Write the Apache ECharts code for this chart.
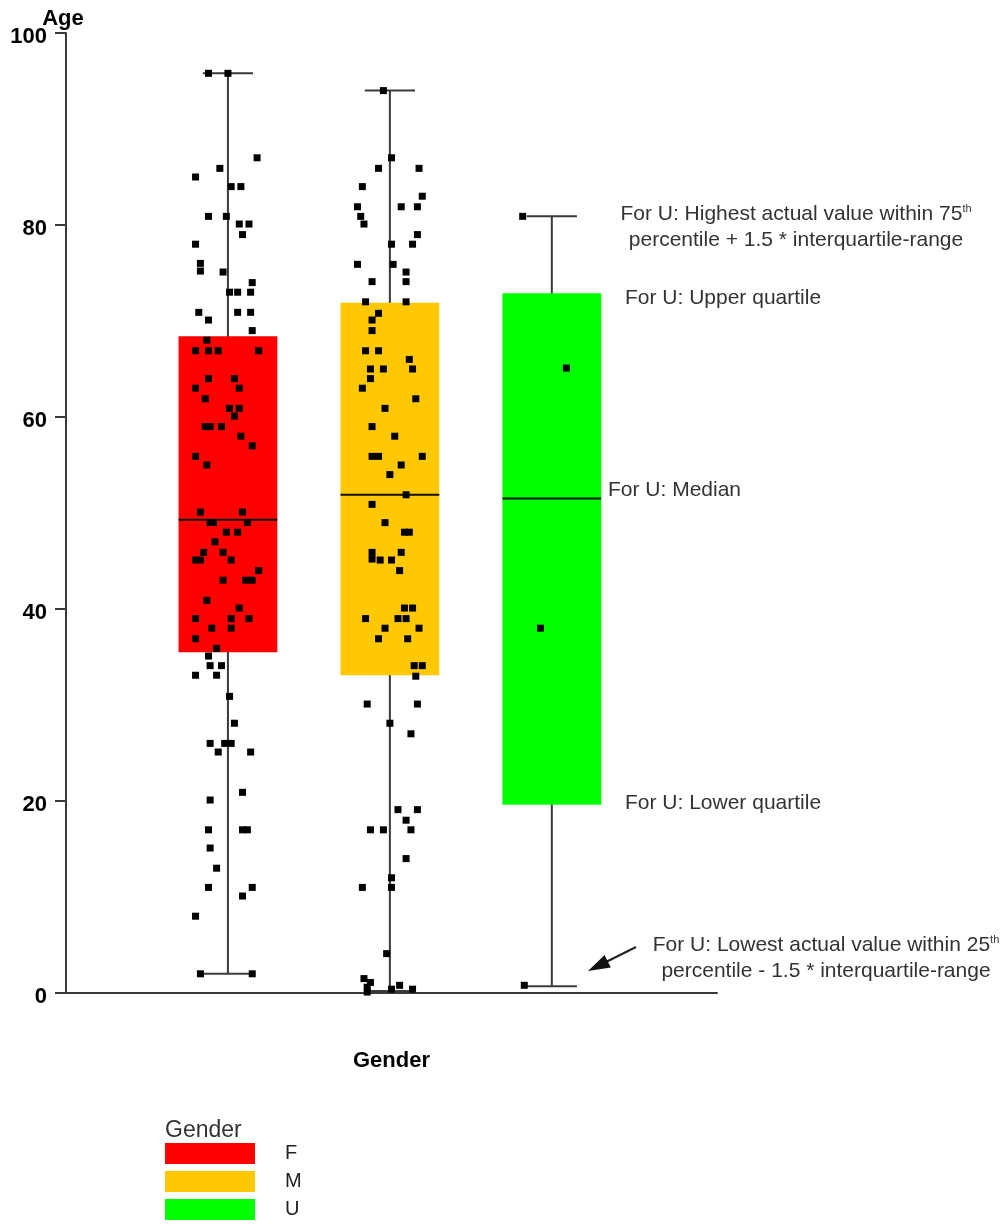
<!DOCTYPE html>
<html>
<head>
<meta charset="utf-8">
<script src="https://cdn.jsdelivr.net/npm/echarts@6/dist/echarts.min.js"></script>
<style>
  html, body { margin: 0; padding: 0; background: #fff; }
  #main { width: 1007px; height: 1226px; }
</style>
</head>
<body>
<div id="main"></div>
<script>
var genders = ['F', 'M', 'U'];
var positions = [1, 2, 3];

// [low whisker, Q1, median, Q3, high whisker]
var boxF = [2, 35.5, 49.3, 68.4, 95.8];
var boxM = [0.2, 33.1, 51.9, 71.9, 94];
var boxU = [0.7, 19.6, 51.5, 72.9, 80.9];

// single ages as [jitter, age]
var ptsF = [
    [-0.12, 95.8], [0, 95.8], [0.18, 87], [-0.05, 85.9], [-0.20, 85], [0.02, 84], [0.08, 84],
    [-0.12, 80.9], [-0.01, 80.9], [0.07, 80.1], [0.13, 80.1], [0.09, 79], [-0.20, 78],
    [-0.17, 76], [-0.17, 75.2], [-0.03, 75.1], [0.15, 74], [0.01, 73], [0.06, 73], [0.14, 73],
    [-0.18, 70.9], [-0.12, 70.1], [0.06, 70.9], [0.14, 70.9], [0.15, 69], [-0.13, 68],
    [-0.20, 66.9], [-0.12, 66.9], [-0.06, 66.9], [0.19, 66.9],
    [-0.12, 64], [0.04, 64], [-0.20, 63], [0.07, 63], [-0.14, 61.9], [0.01, 60.9], [0.07, 60.9],
    [0.04, 60.1], [-0.14, 59], [-0.11, 59], [-0.04, 59], [0.08, 58], [0.15, 57], [-0.20, 55.9],
    [-0.13, 55], [-0.17, 50.1], [0.09, 50.1], [-0.11, 49], [-0.09, 49], [0.12, 49], [-0.01, 48],
    [0.06, 48], [-0.08, 47], [-0.15, 45.9], [-0.03, 45.9], [-0.20, 45.1], [-0.17, 45.1],
    [0.02, 45.1], [0.19, 44], [-0.03, 43], [0.11, 43], [0.15, 43], [-0.13, 40.9], [0.07, 40.1],
    [-0.20, 39], [0.02, 39], [0.13, 39], [-0.10, 38], [0.02, 38], [-0.20, 36.9], [-0.07, 35.9],
    [-0.12, 35.1],
    [-0.11, 34.1], [-0.04, 34.1], [-0.20, 33.1], [-0.07, 33.1], [0.01, 30.9], [0.04, 28.1],
    [-0.11, 26], [-0.02, 26], [0.02, 26], [-0.06, 25.1], [0.14, 25.1], [0.09, 20.9], [-0.11, 20.1],
    [-0.12, 17], [0.09, 17], [0.12, 17], [-0.11, 15.1], [-0.07, 13], [-0.12, 11], [0.15, 11],
    [0.09, 10.1], [-0.20, 8], [-0.17, 2], [0.15, 2]
];
var ptsM = [
    [-0.04, 94], [0.01, 87], [-0.07, 85.9], [0.18, 85.9], [-0.17, 84], [0.20, 83], [-0.20, 81.9],
    [0.07, 81.9], [0.17, 81.9], [-0.18, 80.9], [-0.16, 80.1], [0.17, 79], [0.01, 78], [0.14, 78],
    [-0.20, 75.9], [0.02, 75.9], [0.10, 75.1], [-0.11, 74.1], [0.10, 74.1], [-0.15, 72],
    [0.10, 72], [-0.07, 70.8], [-0.11, 70.1], [-0.11, 69], [-0.15, 66.9], [-0.07, 66.9],
    [0.12, 66], [0.14, 65], [-0.12, 65], [-0.04, 65], [-0.12, 64], [-0.17, 63], [0.16, 61.9],
    [-0.03, 60.9], [-0.11, 59], [0.03, 58], [-0.11, 55.9], [-0.07, 55.9], [0.20, 55.9], [0.07, 55],
    [0, 54], [0.10, 51.9], [-0.11, 50.9], [-0.03, 49], [0.09, 48], [0.12, 48], [-0.11, 45.9],
    [-0.11, 45.2], [0.07, 45.9], [-0.06, 45.1], [0.01, 45.1], [0.06, 44], [0.09, 40.1],
    [0.14, 40.1], [-0.15, 39], [0.05, 39], [0.10, 39], [-0.03, 38], [0.18, 38], [-0.07, 36.9],
    [0.11, 36.9],
    [0.15, 34.1], [0.20, 34.1], [0.16, 33], [-0.14, 30.1], [0.17, 30.1], [0, 28.1], [0.13, 27],
    [0.05, 19.1], [0.17, 19.1], [0.10, 18], [-0.12, 17], [-0.04, 17], [0.13, 17], [0.10, 14],
    [0.01, 12], [0.01, 11], [-0.17, 11], [-0.02, 4.1], [-0.16, 1.5], [-0.12, 1.1], [-0.14, 0.6],
    [-0.14, 0.1], [0.01, 0.4], [0.06, 0.8], [0.14, 0.4]
];
var ptsU = [
    [-0.18, 80.9], [0.09, 65.1], [-0.07, 38], [-0.17, 0.8]
];

var boxes = [boxF, boxM, boxU];
var points = [ptsF, ptsM, ptsU];
var colors = ['#ff0000', '#ffc800', '#00ff00'];

var FONT = '"Liberation Sans", Arial, sans-serif';
var BOX_W = 0.61;
var CAP_W = 0.31;

function renderBox(params, api) {
    var x = api.value(0);
    var lo = api.coord([x, api.value(1)]);
    var q1 = api.coord([x, api.value(2)]);
    var md = api.coord([x, api.value(3)]);
    var q3 = api.coord([x, api.value(4)]);
    var hi = api.coord([x, api.value(5)]);
    var bw = api.size([BOX_W, 0])[0];
    var cw = api.size([CAP_W, 0])[0];
    var wl = { stroke: '#3a3a3a', lineWidth: 2 };
    return {
        type: 'group',
        children: [
            { type: 'line', shape: { x1: lo[0], y1: lo[1], x2: hi[0], y2: hi[1] }, style: wl },
            { type: 'line', shape: { x1: hi[0] - cw / 2, y1: hi[1], x2: hi[0] + cw / 2, y2: hi[1] }, style: wl },
            { type: 'line', shape: { x1: lo[0] - cw / 2, y1: lo[1], x2: lo[0] + cw / 2, y2: lo[1] }, style: wl },
            { type: 'rect', shape: { x: q3[0] - bw / 2, y: q3[1], width: bw, height: q1[1] - q3[1] },
              style: { fill: api.visual('color') } },
            { type: 'line', shape: { x1: md[0] - bw / 2, y1: md[1], x2: md[0] + bw / 2, y2: md[1] },
              style: { stroke: '#111', lineWidth: 2 } }
        ]
    };
}

var series = [];
genders.forEach(function (g, i) {
    series.push({
        name: g,
        type: 'custom',
        renderItem: renderBox,
        itemStyle: { color: colors[i] },
        encode: { x: 0, y: [1, 2, 3, 4, 5] },
        data: [[positions[i]].concat(boxes[i])],
        z: 2,
        silent: true
    });
});
genders.forEach(function (g, i) {
    series.push({
        name: g + ' ages',
        type: 'scatter',
        symbol: 'rect',
        symbolSize: 7,
        itemStyle: { color: '#000', opacity: 1 },
        data: points[i].map(function (p) { return [positions[i] + p[0], p[1]]; }),
        z: 3,
        silent: true
    });
});

function note(text, x, y, align) {
    return {
        type: 'text', x: x, y: y, silent: true,
        style: {
            text: text, fill: '#333', font: '21px ' + FONT,
            textAlign: align || 'left', textVerticalAlign: 'middle',
            rich: {
                a: { fontSize: 21, fontFamily: FONT, fill: '#333' },
                s: { fontSize: 11, fontFamily: FONT, fill: '#333', verticalAlign: 'top', padding: [0, 0, 6, 0] }
            }
        }
    };
}

var myChart = echarts.init(document.getElementById('main'));
var option = {
    animation: false,
    backgroundColor: '#fff',
    grid: { left: 66, right: 290, top: 33, bottom: 233, outerBoundsMode: 'none' },
    xAxis: {
        type: 'value', min: 0, max: 4.02,
        name: 'Gender', nameLocation: 'middle', nameGap: 57,
        nameTextStyle: { fontSize: 22, fontWeight: 'bold', color: '#000', fontFamily: FONT },
        axisLine: { show: true, lineStyle: { color: '#3a3a3a', width: 2 } },
        axisTick: { show: false },
        axisLabel: { show: false },
        splitLine: { show: false }
    },
    yAxis: {
        type: 'value', min: 0, max: 100, interval: 20,
        name: 'Age', nameLocation: 'end', nameGap: 3, nameMoveOverlap: false,
        nameTextStyle: { fontSize: 22, fontWeight: 'bold', color: '#000', fontFamily: FONT, padding: [0, 6, 0, 0] },
        axisLine: { show: true, lineStyle: { color: '#3a3a3a', width: 2 } },
        axisTick: { show: true, length: 11, lineStyle: { color: '#3a3a3a', width: 2 } },
        axisLabel: {
            margin: 19,
            formatter: '{v|{value}}',
            rich: {
                v: { fontSize: 22, fontWeight: 'bold', color: '#000', fontFamily: FONT,
                     lineHeight: 30, verticalAlign: 'bottom' }
            }
        },
        splitLine: { show: false }
    },
    legend: {
        data: genders,
        orient: 'vertical',
        left: 165, top: 1143, height: 90,
        padding: 0,
        icon: 'rect',
        itemWidth: 90, itemHeight: 21, itemGap: 7,
        selectedMode: false,
        textStyle: { fontSize: 20, lineHeight: 13, color: '#222', fontFamily: FONT, padding: [8, 0, 0, 25] }
    },
    graphic: [
        { type: 'text', x: 165, y: 1131, silent: true,
          style: { text: 'Gender', fill: '#333', font: '23px ' + FONT, textVerticalAlign: 'middle' } },
        note('{a|For U: Highest actual value within 75}{s|th}', 796, 214, 'center'),
        note('percentile + 1.5 * interquartile-range', 796, 240, 'center'),
        note('For U: Upper quartile', 625, 298),
        note('For U: Median', 608, 490),
        note('For U: Lower quartile', 625, 803),
        note('{a|For U: Lowest actual value within 25}{s|th}', 826, 945, 'center'),
        note('percentile - 1.5 * interquartile-range', 826, 971, 'center'),
        { type: 'line', silent: true, shape: { x1: 636, y1: 947, x2: 604, y2: 963 },
          style: { stroke: '#222', lineWidth: 2 } },
        { type: 'polygon', silent: true, shape: { points: [[588, 971], [610.8, 967.5], [604.6, 954.9]] },
          style: { fill: '#111' } }
    ],
    series: series
};
myChart.setOption(option);
</script>
</body>
</html>
